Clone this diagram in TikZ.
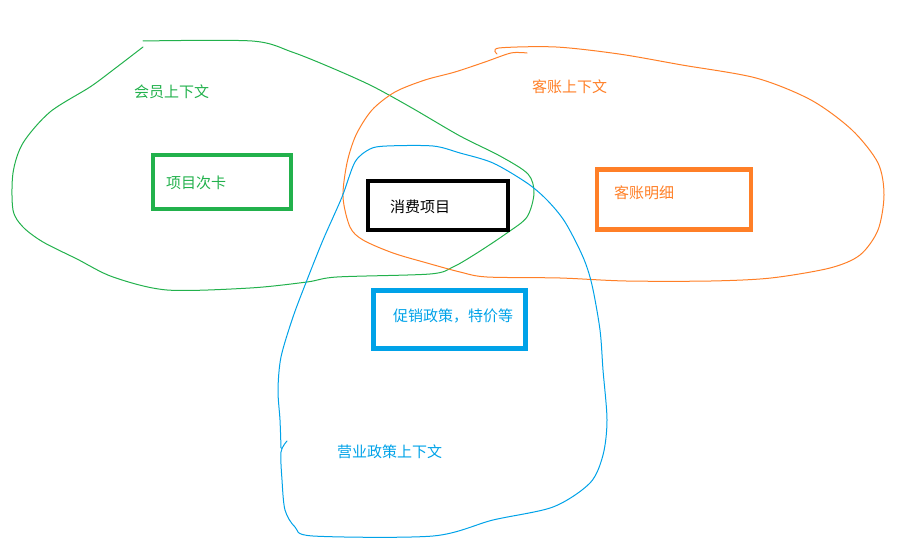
\documentclass[tikz,border=0pt]{standalone}
\usepackage{fontspec}
\newfontfamily\cjk{Noto Sans CJK SC}
\definecolor{paintgreen}{HTML}{22B14C}
\definecolor{paintorange}{HTML}{FF7F27}
\definecolor{paintblue}{HTML}{00A2E8}
\begin{document}
\begin{tikzpicture}[
        x=1pt, y=-1pt,
        every node/.style={font=\cjk\fontsize{15}{18}\selectfont, inner sep=0pt},
        blob/.style={line width=1pt, line join=round, line cap=round},
        box/.style={rectangle, draw, line width=4.5pt, fill=none},
        label/.style={anchor=west}
        ]
        \useasboundingbox (0,0) rectangle (907,553);

        % Context blobs (freehand)
        \draw[blob, paintgreen] plot[smooth, tension=0.5] coordinates {
            (143,41) (252,41) (292,52) (332,68) (372,86) (412,108) (460,136)
            (500,156) (528,174) (534,193) (527,217) (507,233) (477,253) (453,267) (430,274)
            (337,277) (307,282) (250,288) (167,290) (113,277) (77,259) (43,242) (23,227)
            (13,210) (13,173) (23,143) (50,112) (90,87) (113,70) (143,47)};
        \draw[blob, paintorange] plot[smooth, tension=0.5] coordinates {
            (497,54) (499,48) (556,47) (619,54) (682,65) (756,78) (811,100) (852,130)
            (878,163) (884,195) (878,230) (860,255) (830,268) (771,278) (711,281) (626,281)
            (560,278) (487,277) (460,272) (427,263) (393,253) (363,240) (350,227) (343,197)
            (347,163) (356,135) (372,110) (395,92) (425,80) (455,72) (485,62)
            (511,53) (527,53)};
        \draw[blob, paintblue] plot[smooth, tension=0.5] coordinates {
            (287,441) (281,452) (282,480) (285,510) (295,527) (313,536) (433,536) (493,520)
            (553,507) (590,483) (603,455) (607,420) (603,370) (600,330) (592,285) (583,257)
            (565,222) (547,200) (527,183) (493,163) (460,153) (433,146) (387,146) (370,149)
            (355,162) (342,197) (323,240) (307,280) (293,317) (281,357) (278,390) (280,420)
            (281,448)};

        % Context titles
        \node[label, paintgreen] (membertitle) at (134,92) {会员上下文};
        \node[label, paintorange] (billtitle) at (532,87) {客账上下文};
        \node[label, paintblue] (policytitle) at (337,452) {营业政策上下文};

        % Boxes
        \node[box, draw=paintgreen, minimum width=138, minimum height=54] (cardbox) at (222,182) {};
        \node[box, draw=black, minimum width=140, minimum height=49] (itembox) at (438,205.5) {};
        \node[box, draw=paintorange, minimum width=154, minimum height=60] (detailbox) at (674,199.5) {};
        \node[box, draw=paintblue, minimum width=152, minimum height=58] (promobox) at (449.5,319.5) {};

        % Box texts
        \node[label, paintgreen] (cardtext) at (166,183) {项目次卡};
        \node[label, black] (itemtext) at (390,207) {消费项目};
        \node[label, paintorange] (detailtext) at (614,193) {客账明细};
        \node[label, paintblue] (promotext) at (393,316) {促销政策，特价等};

    \end{tikzpicture}
\end{document}
